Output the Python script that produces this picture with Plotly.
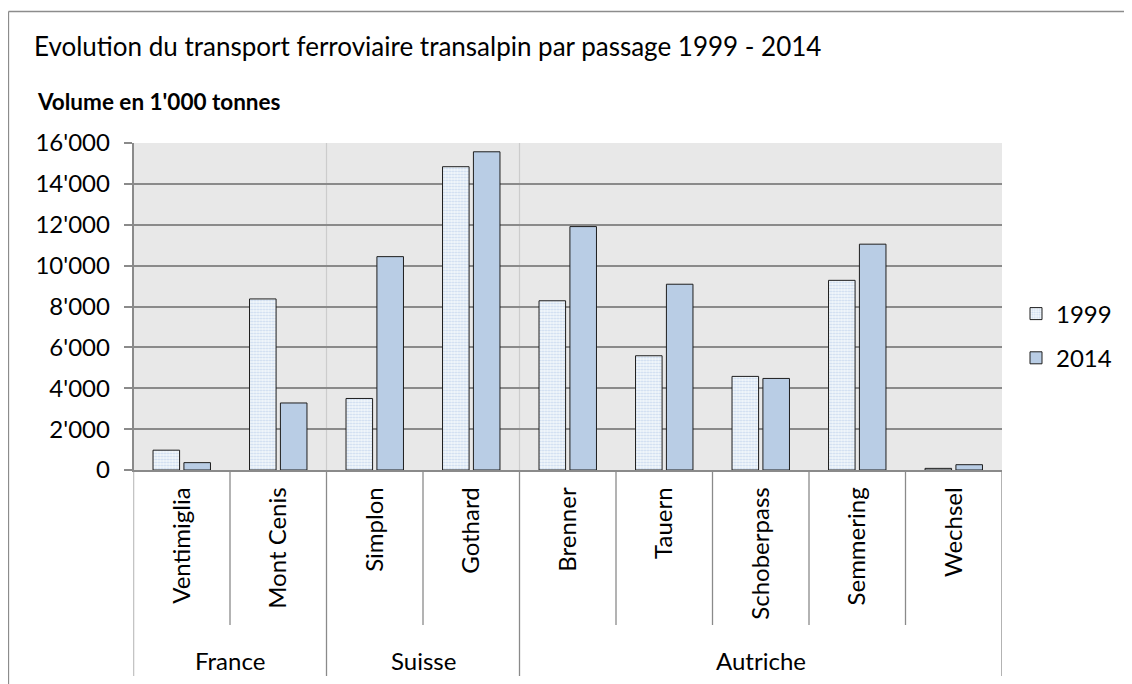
import plotly.graph_objects as go

W, H = 1124, 676   # visible page area (page body has an 8px margin)
OFF = 8

# ---- data ----
passes = ["Ventimiglia", "Mont Cenis", "Simplon", "Gothard", "Brenner",
          "Tauern", "Schoberpass", "Semmering", "Wechsel"]
groups = ["France", "Suisse", "Autriche"]
group_sizes = [2, 2, 5]
vol_1999 = [970, 8370, 3500, 14840, 8280, 5590, 4580, 9280, 80]
vol_2014 = [360, 3280, 10440, 15570, 11910, 9090, 4480, 11050, 260]
years = ["1999", "2014"]
y_ticks = [0, 2000, 4000, 6000, 8000, 10000, 12000, 14000, 16000]

FONT = "Lato"
GRID = "#8a8a8a"


def px(x):
    return (x - OFF) / W


def py(y):
    return 1 - (y - OFF) / H


fig = go.Figure()
fig.add_trace(go.Bar(
    x=passes, y=vol_1999, name=years[0], legendgroup="a",
    marker=dict(color="#f2f6fb",
                line=dict(color="#1e1e1e", width=1),
                pattern=dict(shape=".", fgcolor="#c8d9ee", bgcolor="#f4f8fc",
                             size=3, solidity=0.4, fillmode="replace")),
))
fig.add_trace(go.Bar(
    x=passes, y=vol_2014, name=years[1], legendgroup="b",
    marker=dict(color="#b9cde5", line=dict(color="#1e1e1e", width=1)),
))

shapes = []
group_bounds = [-0.5]
for s in group_sizes:
    group_bounds.append(group_bounds[-1] + s)
cat_bounds = [i + 0.5 for i in range(len(passes) - 1)]
for b in cat_bounds:
    if b in group_bounds:
        continue
    shapes.append(dict(type="line", xref="x", yref="paper", x0=b, x1=b,
                       y0=py(470), y1=py(625), line=dict(color=GRID, width=1.3)))
for b in group_bounds:
    shapes.append(dict(type="line", xref="x", yref="paper", x0=b, x1=b,
                       y0=py(470), y1=py(676), line=dict(color=GRID, width=1.3)))
for b in group_bounds[1:-1]:
    shapes.append(dict(type="line", xref="x", yref="y domain", x0=b, x1=b,
                       y0=0, y1=1, layer="below", line=dict(color="#cccccc", width=1.2)))
# outer border of the chart (only left and top edges are visible)
shapes.append(dict(type="line", xref="paper", yref="paper",
                   x0=px(8.5), x1=px(8.5), y0=py(11.5), y1=py(684),
                   line=dict(color="#8c8c8c", width=1.3)))
shapes.append(dict(type="line", xref="paper", yref="paper",
                   x0=px(8.5), x1=px(1132), y0=py(11.5), y1=py(11.5),
                   line=dict(color="#8c8c8c", width=1.3)))

annotations = []
start = 0
for g, s in zip(groups, group_sizes):
    annotations.append(dict(text=g, xref="x", yref="paper", x=start + (s - 1) / 2,
                            y=py(660), showarrow=False, xanchor="center", yanchor="middle",
                            font=dict(family=FONT, size=24, color="#000")))
    start += s
annotations.append(dict(text="<b>Volume en 1'000 tonnes</b>", xref="paper", yref="paper",
                        x=px(35), y=py(102), xanchor="left", yanchor="middle", showarrow=False,
                        font=dict(family=FONT, size=22.5, color="#000")))

fig.update_layout(
    width=W, height=H,
    margin=dict(l=0, r=0, t=0, b=0),
    paper_bgcolor="white",
    plot_bgcolor="#e8e8e8",
    separators=".'",
    title=dict(text="Evolution du transport ferroviaire transalpin par passage 1999 - 2014",
               x=px(34), xanchor="left", xref="paper", y=py(47), yanchor="middle", yref="paper",
               font=dict(family=FONT, size=26, color="#000")),
    barmode="group", bargap=0.36, bargroupgap=0.14,
    showlegend=True,
    legend=dict(x=px(1016), y=py(336), xanchor="left", yanchor="middle",
                font=dict(family=FONT, size=24, color="#000"),
                tracegroupgap=10, itemwidth=30, bgcolor="rgba(0,0,0,0)"),
    xaxis=dict(domain=[px(133.5), px(1002)], range=[-0.5, len(passes) - 0.5],
               type="category", tickangle=-90, showline=True, linecolor=GRID, linewidth=1.5,
               ticks="", ticklabelstandoff=6, showgrid=False, automargin=False,
               tickfont=dict(family=FONT, size=24, color="#000")),
    yaxis=dict(domain=[py(470), py(143)], range=[0, 16000], tickvals=y_ticks,
               tickformat=",d", showgrid=True, gridcolor=GRID, gridwidth=1.5,
               showline=True, linecolor=GRID, linewidth=1.5,
               ticks="outside", ticklen=8, tickcolor=GRID, tickwidth=1.5,
               ticklabelstandoff=9, automargin=False, zeroline=False,
               tickfont=dict(family=FONT, size=24, color="#000")),
    shapes=shapes,
    annotations=annotations,
)

fig.write_html("out.html")
